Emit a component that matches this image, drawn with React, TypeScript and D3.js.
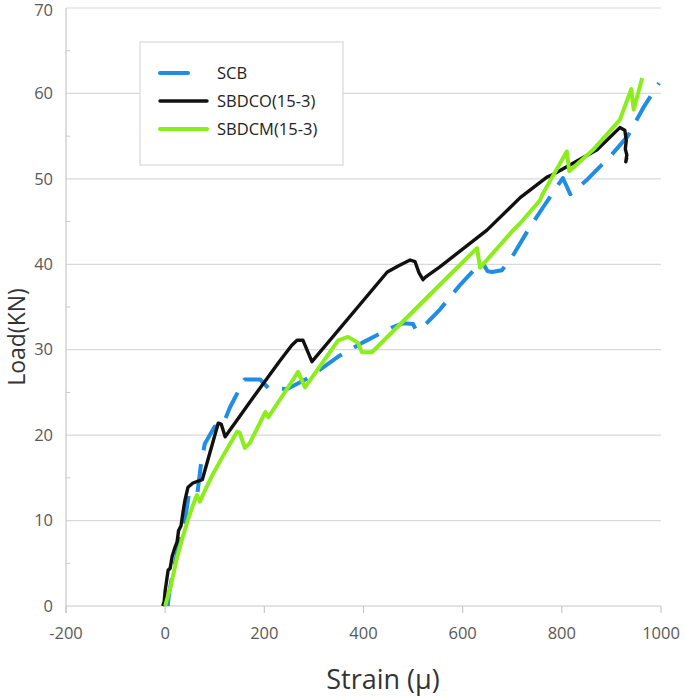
import React from "react";
import * as d3 from "d3";

const xTicks = [-200, 0, 200, 400, 600, 800, 1000];
const yTicks = [0, 10, 20, 30, 40, 50, 60, 70];
const yMinor = [5, 15, 25, 35, 45, 55, 65];

const seriesNames = ["SCB", "SBDCO(15-3)", "SBDCM(15-3)"];

const scbX = [5, 8, 12, 25, 40, 48, 57, 65, 72, 80, 100, 117, 131, 160, 192, 208, 246, 292, 320, 349, 397, 420, 457, 480, 500, 505, 514, 554, 595, 629, 640, 650, 659, 679, 700, 735, 766, 802, 806, 817, 851, 897, 933, 964, 996];
const scbY = [0, 1.5, 2.8, 6.5, 10, 13.2, 13.5, 13.2, 16.5, 19, 21, 21.3, 23.3, 26.5, 26.5, 25.5, 25.4, 26.8, 28, 29.2, 30.8, 31.5, 32.6, 33.1, 33, 32.4, 32.3, 34.7, 37.6, 39.7, 40.2, 39.2, 39.1, 39.3, 40.9, 44.3, 47, 50.1, 49.6, 48.2, 49.9, 52.6, 55, 58.3, 61.2];

const sbdcoX = [-5, -2, 0, 3, 6, 10, 14, 20, 24, 27, 32, 36, 40, 46, 56, 75, 107, 113, 121, 180, 230, 255, 266, 278, 296, 448, 470, 494, 504, 512, 520, 525, 554, 649, 716, 770, 782, 871, 917, 927, 930, 928, 931, 929, 931];
const sbdcoY = [0, 0.5, 1.8, 3, 4.2, 4.4, 5.8, 6.9, 7.5, 8.8, 9.4, 11, 12.4, 13.9, 14.4, 14.8, 21.4, 21.3, 19.8, 24.6, 28.6, 30.5, 31.1, 31.1, 28.6, 39.1, 39.8, 40.5, 40.3, 39.0, 38.2, 38.5, 39.7, 44, 47.8, 50.2, 50.5, 53.4, 56, 55.7, 54.5, 53.5, 52.8, 52, 52.5];

const sbdcmX = [0, 12, 24, 35, 46, 56, 64, 70, 80, 95, 115, 145, 150, 161, 171, 202, 208, 232, 258, 268, 282, 349, 369, 389, 397, 417, 554, 629, 635, 702, 716, 756, 762, 810, 815, 863, 917, 940, 945, 962];
const sbdcmY = [0, 2.5, 5.7, 8, 10.1, 11.8, 13, 12.2, 13.5, 15.3, 17.4, 20.4, 20.3, 18.5, 19.1, 22.7, 22.1, 24.2, 26.5, 27.4, 25.6, 31.1, 31.5, 30.8, 29.7, 29.7, 37.6, 41.9, 39.6, 44, 44.8, 47.5, 48.3, 53.2, 50.9, 53.4, 56.9, 60.5, 58.1, 61.8];

const colors = ["#1f8ce6", "#111111", "#8ced1c"];
const widths = [4, 3.4, 4];
const dashes = ["28 14", "none", "none"];

const W = 685;
const H = 698;
const FONT = "'Open Sans', 'DejaVu Sans', sans-serif";

export default function App() {
  const x = d3.scaleLinear().domain([-200, 1000]).range([66, 661]);
  const y = d3.scaleLinear().domain([0, 70]).range([606, 8]);
  const line = d3
    .line<[number, number]>()
    .x((d) => x(d[0]))
    .y((d) => y(d[1]));

  const series = [
    d3.zip(scbX, scbY) as [number, number][],
    d3.zip(sbdcoX, sbdcoY) as [number, number][],
    d3.zip(sbdcmX, sbdcmY) as [number, number][],
  ];

  const legendX0 = 160;
  const legendRows = [73, 101, 129];

  return (
    <svg
      width={W}
      height={H}
      style={{ position: "absolute", left: 0, top: 0, background: "#fff" }}
      fontFamily={FONT}
    >
      {yTicks.slice(1).map((t) => (
        <line key={"g" + t} x1={x(-200)} x2={x(1000)} y1={y(t)} y2={y(t)} stroke="#d9d9d9" strokeWidth={1.2} />
      ))}
      <line x1={x(-200)} x2={x(-200)} y1={y(70)} y2={y(0) + 7} stroke="#c8c8c8" strokeWidth={1.2} />
      {yMinor.map((t) => (
        <line key={"m" + t} x1={x(-200)} x2={x(-200) + 4} y1={y(t)} y2={y(t)} stroke="#c8c8c8" strokeWidth={1} />
      ))}
      <line x1={x(-200)} x2={x(1000)} y1={y(0)} y2={y(0)} stroke="#c8c8c8" strokeWidth={1.2} />
      {xTicks.map((t) => (
        <line key={"xt" + t} x1={x(t)} x2={x(t)} y1={y(0)} y2={y(0) + 7} stroke="#c8c8c8" strokeWidth={1.2} />
      ))}
      {yTicks.map((t) => (
        <text key={"yl" + t} x={53} y={y(t) + (t === 70 ? 2 : 0)} dy="0.35em" textAnchor="end" fontSize={16.5} fill="#595959">
          {t}
        </text>
      ))}
      {xTicks.map((t) => (
        <text key={"xl" + t} x={x(t)} y={639} textAnchor="middle" fontSize={16.5} fill="#595959">
          {t}
        </text>
      ))}
      <text x={383} y={689} textAnchor="middle" fontSize={27} fill="#333">
        Strain (μ)
      </text>
      <text transform={`translate(25, ${337}) rotate(-90)`} textAnchor="middle" fontSize={23} fill="#333">
        Load(KN)
      </text>
      {series.map((s, i) => (
        <path
          key={"s" + i}
          d={line(s) || ""}
          fill="none"
          stroke={colors[i]}
          strokeWidth={widths[i]}
          strokeDasharray={dashes[i]}
          strokeLinejoin="round"
        />
      ))}
      <rect x={140} y={42} width={203} height={123} fill="#fff" stroke="#d9d9d9" strokeWidth={1.2} />
      {seriesNames.map((n, i) => (
        <g key={"lg" + i}>
          <line
            x1={legendX0}
            x2={i === 0 ? legendX0 + 28 : legendX0 + 47}
            y1={legendRows[i]}
            y2={legendRows[i]}
            stroke={colors[i]}
            strokeWidth={widths[i]}
            strokeLinecap="round"
          />
          <text x={217} y={legendRows[i]} dy="0.35em" fontSize={16.5} fill="#222">
            {n}
          </text>
        </g>
      ))}
    </svg>
  );
}
